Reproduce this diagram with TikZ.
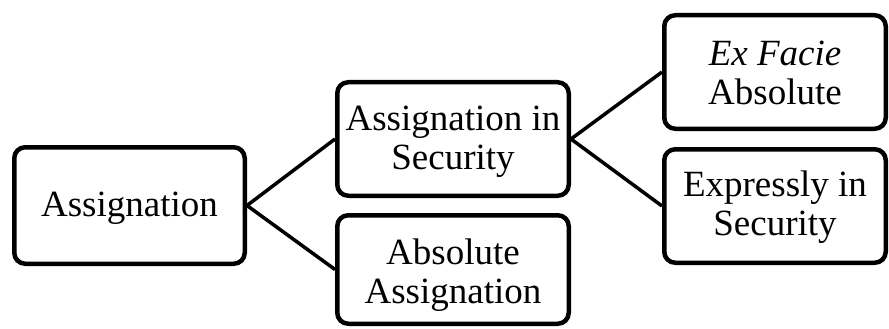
\documentclass[tikz,border=0pt]{standalone}
\usepackage{fontspec}
\setmainfont{Liberation Serif}
\usetikzlibrary{shadows}
\begin{document}
\begin{tikzpicture}[x=1pt,y=-1pt,
  box/.style={draw=black, line width=4.5pt, rounded corners=11pt, fill=white,
    inner sep=0pt,
    drop shadow={shadow xshift=1.2pt, shadow yshift=-1.5pt, fill=black, opacity=0.25}},
  txt/.style={align=center, inner sep=0pt, font=\fontsize{37}{39}\selectfont},
  link/.style={line width=3.5pt, draw=black}]
\useasboundingbox (0,0) rectangle (889,329);
\node[box, minimum width=230.5pt, minimum height=116.5pt] (a) at (129.5,205.5) {};
\node[box, minimum width=231.5pt, minimum height=113.5pt] (b) at (453,139) {};
\node[box, minimum width=231.5pt, minimum height=108.5pt] (c) at (453,269.5) {};
\node[box, minimum width=221.5pt, minimum height=113.5pt] (d) at (775,72) {};
\node[box, minimum width=221.5pt, minimum height=113.5pt] (e) at (775,206) {};
\node[txt] (at) at ([yshift=-3pt]a.center) {Assignation};
\node[txt] (bt) at ([yshift=-3pt]b.center) {Assignation in\\Security};
\node[txt] (ct) at ([yshift=-6pt]c.center) {Absolute\\Assignation};
\node[txt] (dt) at ([yshift=-1pt]d.center) {\textit{Ex Facie}\\Absolute};
\node[txt] (et) at ([yshift=-1pt]e.center) {Expressly in\\Security};
\draw[link] (b.west) -- (a.east) -- (c.west);
\draw[link] (d.west) -- (b.east) -- (e.west);
\end{tikzpicture}
\end{document}
